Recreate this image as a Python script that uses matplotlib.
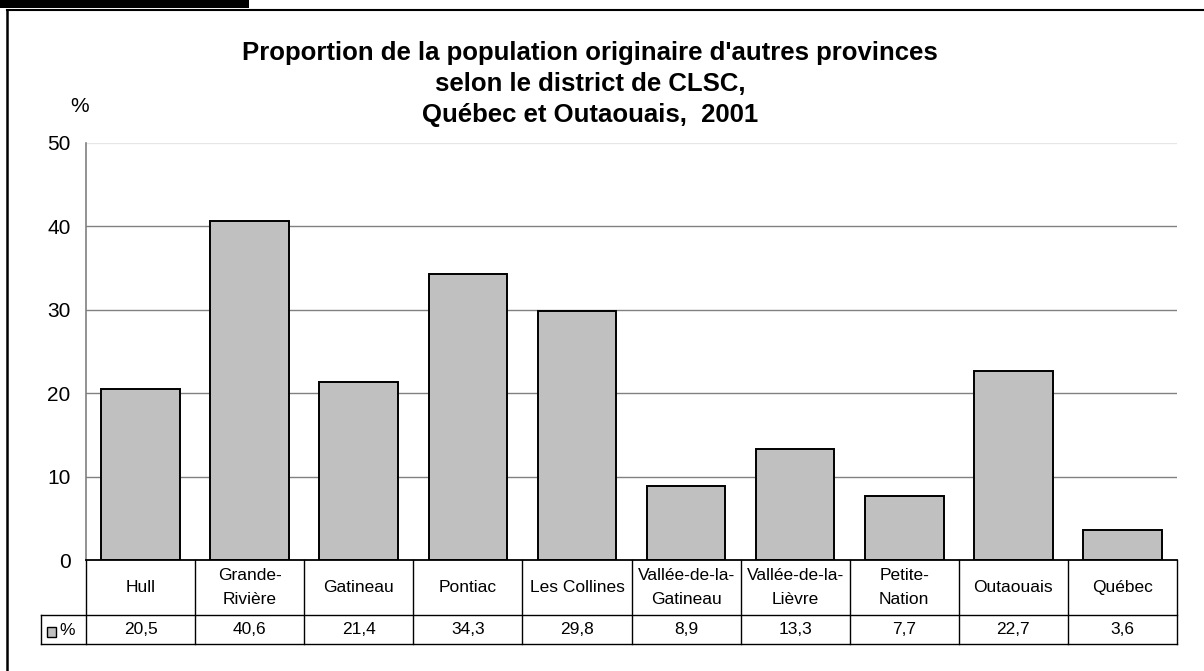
import matplotlib
matplotlib.use('Agg')
import matplotlib.pyplot as plt
from matplotlib.lines import Line2D
from matplotlib.patches import Rectangle
from matplotlib.transforms import blended_transform_factory

plt.rcParams['font.family'] = ['Liberation Sans', 'DejaVu Sans']

districts = ['Hull', 'Grande-\nRivière', 'Gatineau', 'Pontiac', 'Les Collines',
             'Vallée-de-la-\nGatineau', 'Vallée-de-la-\nLièvre', 'Petite-\nNation',
             'Outaouais', 'Québec']
values = [20.5, 40.6, 21.4, 34.3, 29.8, 8.9, 13.3, 7.7, 22.7, 3.6]
value_labels = ['20,5', '40,6', '21,4', '34,3', '29,8', '8,9', '13,3', '7,7', '22,7', '3,6']
yticks = [0, 10, 20, 30, 40, 50]

W, H = 1204, 671
fig = plt.figure(figsize=(W / 100, H / 100), dpi=100)
ax = fig.add_axes([86 / W, 1 - 560 / H, (1177 - 86) / W, (560 - 143) / H])

bar_color = '#c0c0c0'
x = list(range(len(values)))
ax.bar(x, values, width=0.72, color=bar_color, edgecolor='black', linewidth=1.4, zorder=3)

ax.set_xlim(-0.5, len(values) - 0.5)
ax.set_ylim(0, 50)
ax.set_yticks(yticks)
ax.set_yticklabels([str(t) for t in yticks], fontsize=15)
ax.set_xticks([])
ax.tick_params(axis='y', length=0, pad=11)
for t in yticks[1:-1]:
    ax.axhline(t, color='#808080', linewidth=1.0, zorder=1)
ax.axhline(50, color='#e6e6e6', linewidth=1.0, zorder=1)
for s in ['top', 'right', 'bottom']:
    ax.spines[s].set_visible(False)
ax.spines['left'].set_color('#808080')
ax.spines['left'].set_linewidth(1.2)

fig.text(80 / W, 1 - 106 / H, '%', fontsize=15, ha='center', va='center')

# data table under the plot
tr = blended_transform_factory(ax.transData, ax.transAxes)
ah = 560 - 143
y_lab = -55 / ah
y_val = -84 / ah
x_hdr = -0.5 - 45 / ((1177 - 86) / len(values))
n = len(values)
lw = 1.0
ax.add_line(Line2D([-0.5, n - 0.5], [0, 0], color='black', lw=1.3, transform=tr, clip_on=False, zorder=5))
ax.add_line(Line2D([x_hdr, n - 0.5], [y_lab, y_lab], color='black', lw=lw, transform=tr, clip_on=False))
ax.add_line(Line2D([x_hdr, n - 0.5], [y_val, y_val], color='black', lw=lw, transform=tr, clip_on=False))
ax.add_line(Line2D([x_hdr, x_hdr], [y_lab, y_val], color='black', lw=lw, transform=tr, clip_on=False))
for i in range(n + 1):
    xb = i - 0.5
    ax.add_line(Line2D([xb, xb], [0, y_val], color='black', lw=lw, transform=tr, clip_on=False))
for i in range(n):
    ax.text(i, y_lab / 2, districts[i], transform=tr, ha='center', va='center',
            fontsize=12.5, linespacing=1.8)
    ax.text(i, (y_lab + y_val) / 2, value_labels[i], transform=tr, ha='center', va='center',
            fontsize=12.5)

# legend key in row header
fig.patches.append(Rectangle((47 / W, 1 - 637 / H), 9 / W, 10 / H, transform=fig.transFigure,
                             facecolor=bar_color, edgecolor='black', linewidth=1.0))
fig.text(59 / W, 1 - 630.5 / H, '%', fontsize=12.5, ha='left', va='center')

title_lines = ["Proportion de la population originaire d'autres provinces",
               'selon le district de CLSC,',
               'Québec et Outaouais,  2001']
for line, ypix in zip(title_lines, [53, 84, 115]):
    fig.text(590 / W, 1 - ypix / H, line, fontsize=18.5, fontweight='bold',
             ha='center', va='center')

# frame
fig.patches.append(Rectangle((0, 1 - 8 / H), 249 / W, 8 / H, transform=fig.transFigure,
                             facecolor='black', edgecolor='none'))
fig.add_artist(Line2D([7 / W, 1], [1 - 9.5 / H, 1 - 9.5 / H], color='black', lw=1.5,
                      transform=fig.transFigure))
fig.add_artist(Line2D([7 / W, 7 / W], [0, 1 - 9.5 / H], color='black', lw=1.8,
                      transform=fig.transFigure))

fig.savefig('out.png', dpi=100)
